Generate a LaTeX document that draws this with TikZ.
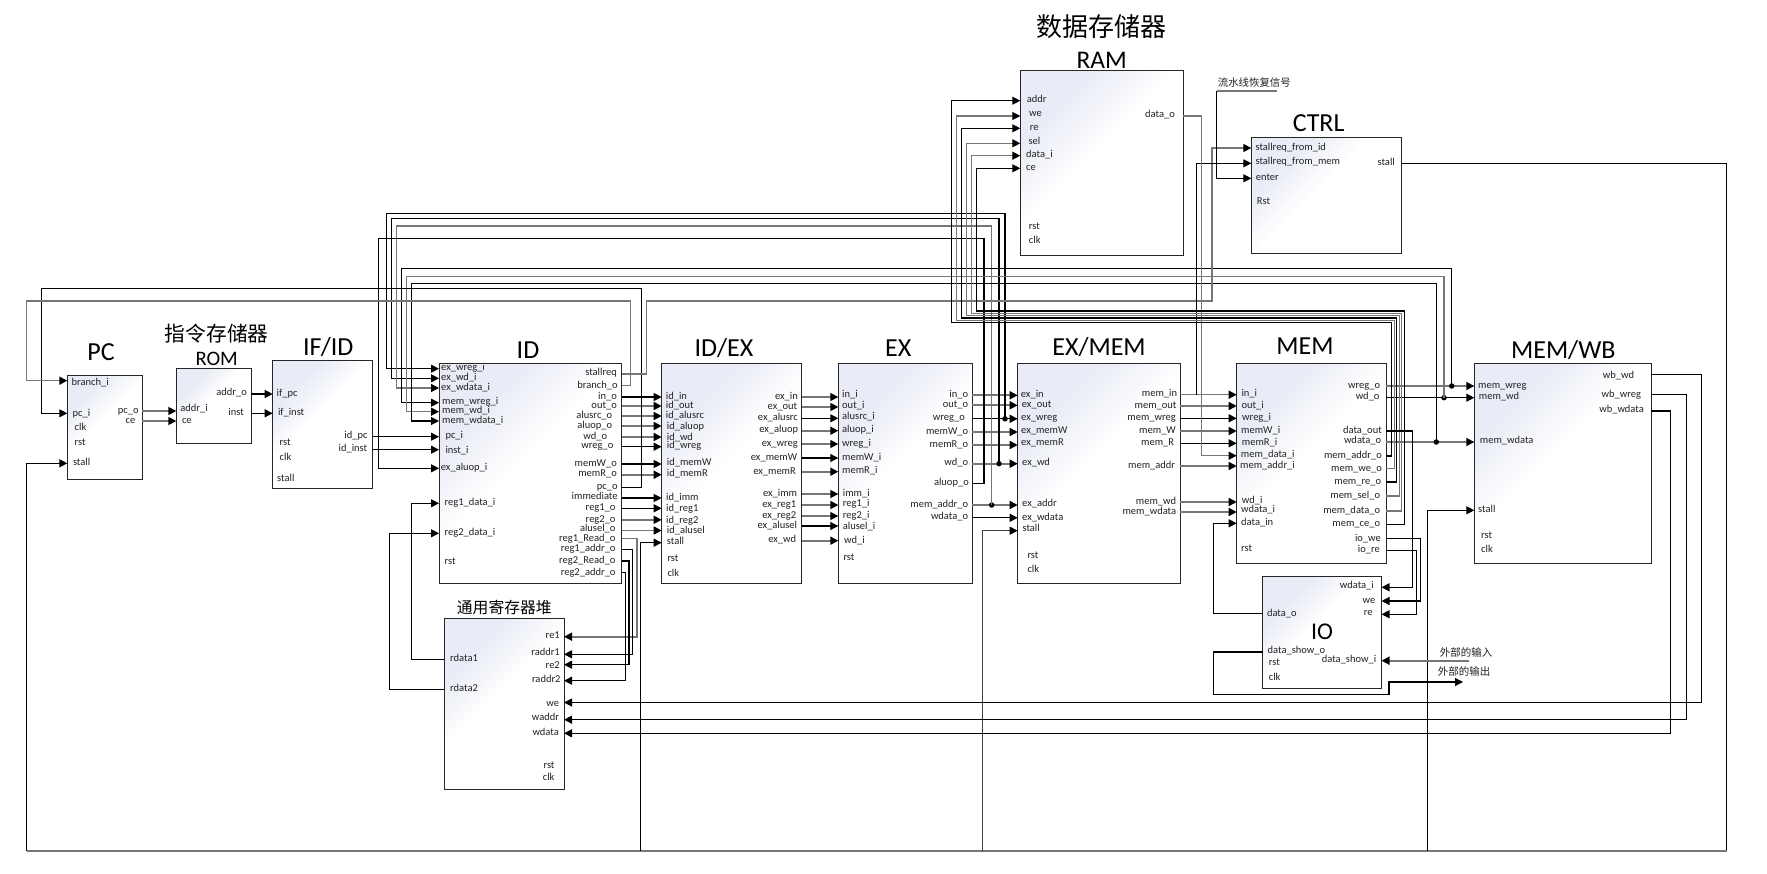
\documentclass[tikz,border=0pt]{standalone}
\usepackage{fontspec}
\setmainfont{Carlito}
\newfontfamily\cjk{Noto Sans CJK SC}
\usetikzlibrary{arrows.meta,calc}
\definecolor{blockblue}{HTML}{E9ECF6}
\definecolor{wiregray}{HTML}{767676}
\definecolor{ink}{HTML}{222222}
\pgfdeclarehorizontalshading{blkshade}{100bp}{color(0bp)=(blockblue);color(30bp)=(blockblue);color(46bp)=(white);color(100bp)=(white)}
\tikzset{
  blk/.style={draw=black!85,line width=1pt,shade,shading=blkshade,shading angle=-45,inner sep=0pt,outer sep=0pt},
  lab/.style={font=\fontsize{10.5}{12}\selectfont,text=ink,inner sep=0pt,text height=7pt,text depth=2.6pt},
  ttl/.style={font=\fontsize{26}{28}\selectfont,text=black,inner sep=0pt},
  wb/.style={draw=black,line width=1.05pt},
  wg/.style={draw=wiregray,line width=1.6pt},
  ar/.style={-{Triangle[length=8pt,width=8pt,color=black,fill=black]}},
  dot/.style={circle,fill=black,inner sep=0pt,minimum size=5.5pt}
}
\newcommand\blk[5]{\node[blk,minimum width={#4-#2},minimum height={#5-#3}] (#1) at ({(#2+#4)/2},{(#3+#5)/2}) {};}
\newcommand\Lp[5]{\coordinate (#1-#2) at (#1.west |- 0,#3);\node[lab,anchor=west] (t-#1-#2) at (#4,#5) {#2};}
\newcommand\Rp[5]{\coordinate (#1-#2) at (#1.east |- 0,#3);\node[lab,anchor=east] (t-#1-#2) at (#4,#5) {#2};}
\catcode`\_=12
\begin{document}
\begin{tikzpicture}[x=1pt,y=-1pt]
\useasboundingbox (0,0) rectangle (1767,874);
\fill[white] (0,0) rectangle (1767,874);
\begin{scope}[yshift=-1pt]
% blocks
\blk{PC}{67.3}{374.3}{142.3}{478}
\blk{ROM}{176.3}{367.3}{251.3}{442.3}
\blk{IFID}{272.7}{359.7}{372.5}{487.3}
\blk{ID}{439}{362.3}{621.6}{582.3}
\blk{IDEX}{661.7}{362.7}{801.7}{582.7}
\blk{EX}{838.3}{362.7}{972.3}{582.5}
\blk{EXMEM}{1017.7}{362.3}{1180.3}{582.3}
\blk{MEM}{1236.7}{362.3}{1386.3}{562.3}
\blk{MEMWB}{1474.3}{362.7}{1651.3}{562.3}
\blk{RAM}{1020.3}{70}{1183}{255}
\blk{CTRL}{1251.3}{136.7}{1401.7}{252.3}
\blk{IO}{1262.9}{575.7}{1381.5}{687}
\blk{RF}{444}{617.7}{564}{788.7}
% titles
\node[ttl] (n-pc) at (101,350.7) {PC};
\node[ttl,font=\cjk\fontsize{20.7}{22}\selectfont] (n-romc) at (216.7,332.3) {指令存储器};
\node[ttl,font=\fontsize{20.6}{22}\selectfont] (n-rom) at (216.7,358.3) {ROM};
\node[ttl] (n-ifid) at (328.3,345.7) {IF/ID};
\node[ttl] (n-id) at (528,349.3) {ID};
\node[ttl] (n-idex) at (724,347.3) {ID/EX};
\node[ttl] (n-ex) at (898.3,347.3) {EX};
\node[ttl] (n-exmem) at (1099,346) {EX/MEM};
\node[ttl] (n-mem) at (1305,345) {MEM};
\node[ttl] (n-memwb) at (1563.3,349.3) {MEM/WB};
\node[ttl,font=\cjk\fontsize{26}{28}\selectfont] (n-ramc) at (1101.7,26) {数据存储器};
\node[ttl,font=\fontsize{25.4}{27}\selectfont] (n-ram) at (1101.7,59.3) {RAM};
\node[ttl] (n-ctrl) at (1318.7,121.7) {CTRL};
\node[ttl,font=\fontsize{24}{26}\selectfont] (n-io) at (1322,630.7) {IO};
\node[ttl,font=\cjk\fontsize{15.8}{18}\selectfont] (n-rf) at (504.3,606.7) {通用寄存器堆};
\node[lab,font=\cjk\fontsize{10.4}{12}\selectfont] (n-note) at (1254.3,83.3) {流水线恢复信号};
\node[lab,font=\cjk\fontsize{10.5}{12}\selectfont] (n-in) at (1466,653.3) {外部的输入};
\node[lab,font=\cjk\fontsize{10.5}{12}\selectfont] (n-out) at (1464,672.3) {外部的输出};
% PC
\Lp{PC}{branch_i}{379.7}{71.5}{382.3}
\Lp{PC}{pc_i}{412.3}{72.4}{413}
\Lp{PC}{clk}{427}{74.5}{427.3}
\Lp{PC}{rst}{443}{74.5}{442.7}
\Lp{PC}{stall}{462.3}{72.8}{462.3}
\Rp{PC}{pc_o}{410}{138.9}{410}
\Rp{PC}{ce}{420}{135.5}{420}
% ROM
\Lp{ROM}{addr_i}{410}{180.1}{408.7}
\Lp{ROM}{ce}{420}{181.8}{420}
\Rp{ROM}{addr_o}{393}{247}{392.3}
\Rp{ROM}{inst}{412.3}{244}{412.3}
% IFID
\Lp{IFID}{if_pc}{393}{276.5}{393.3}
\Lp{IFID}{if_inst}{412.3}{277.8}{412.3}
\Lp{IFID}{rst}{442.7}{279.5}{442.7}
\Lp{IFID}{clk}{457.3}{279.5}{457.3}
\Lp{IFID}{stall}{478.3}{277}{478.3}
\Rp{IFID}{id_pc}{435.7}{367.8}{435}
\Rp{IFID}{id_inst}{448.7}{367.4}{448.7}
% ID
\Lp{ID}{ex_wreg_i}{367.7}{441}{367.7}
\Lp{ID}{ex_wd_i}{377.3}{441}{377.3}
\Lp{ID}{ex_wdata_i}{387}{441}{387}
\Lp{ID}{mem_wreg_i}{401.7}{442}{401}
\Lp{ID}{mem_wd_i}{410.7}{442}{410.7}
\Lp{ID}{mem_wdata_i}{420}{442}{420}
\Lp{ID}{pc_i}{435.7}{445.3}{435}
\Lp{ID}{inst_i}{448.7}{445.3}{450}
\Lp{ID}{ex_aluop_i}{467.3}{440.7}{467.3}
\Lp{ID}{reg1_data_i}{502.3}{444.4}{502.3}
\Lp{ID}{reg2_data_i}{532.3}{444.4}{532.3}
\Lp{ID}{rst}{561}{444.4}{561}
\Rp{ID}{stallreq}{373.3}{617}{372.7}
\Rp{ID}{branch_o}{384.7}{617.8}{385}
\Rp{ID}{in_o}{396}{617}{396.3}
\Rp{ID}{out_o}{405}{617}{405.3}
\Rp{ID}{alusrc_o}{415}{612.4}{415}
\Rp{ID}{aluop_o}{425}{612.4}{425}
\Rp{ID}{wd_o}{436}{607.3}{436.3}
\Rp{ID}{wreg_o}{445.7}{613.6}{445.7}
\Rp{ID}{memW_o}{463}{617}{463.7}
\Rp{ID}{memR_o}{473.7}{617}{473.7}
\Rp{ID}{pc_o}{486.7}{617.8}{486.7}
\Rp{ID}{immediate}{497}{617.8}{496.7}
\Rp{ID}{reg1_o}{507.3}{615.7}{507}
\Rp{ID}{reg2_o}{518.8}{615.7}{519}
\Rp{ID}{alusel_o}{529.5}{615.7}{528.7}
\Rp{ID}{reg1_Read_o}{537.5}{615.7}{538}
\Rp{ID}{reg1_addr_o}{548.5}{615.7}{548.7}
\Rp{ID}{reg2_Read_o}{560}{615.7}{560.3}
\Rp{ID}{reg2_addr_o}{571.3}{615.7}{572}
% IDEX
\Lp{IDEX}{id_in}{396}{665.7}{396}
\Lp{IDEX}{id_out}{405}{665.7}{405}
\Lp{IDEX}{id_alusrc}{415}{665.7}{415}
\Lp{IDEX}{id_aluop}{425}{666.7}{426}
\Lp{IDEX}{id_wd}{436}{666.7}{437}
\Lp{IDEX}{id_wreg}{445.7}{666.7}{445.7}
\Lp{IDEX}{id_memW}{463}{666.7}{462.3}
\Lp{IDEX}{id_memR}{473.7}{666.7}{473.7}
\Lp{IDEX}{id_imm}{497}{666}{497.3}
\Lp{IDEX}{id_reg1}{507.3}{666}{508.3}
\Lp{IDEX}{id_reg2}{518.8}{666}{520}
\Lp{IDEX}{id_alusel}{529.5}{666.7}{530.3}
\Lp{IDEX}{stall}{541.7}{666.7}{541}
\Lp{IDEX}{rst}{558}{667.3}{558.3}
\Lp{IDEX}{clk}{573}{667.3}{573.3}
\Rp{IDEX}{ex_in}{396}{798}{396}
\Rp{IDEX}{ex_out}{406}{797.3}{406}
\Rp{IDEX}{ex_alusrc}{417.3}{798}{417.3}
\Rp{IDEX}{ex_aluop}{429.7}{798.3}{429.7}
\Rp{IDEX}{ex_wreg}{443}{798}{443}
\Rp{IDEX}{ex_memW}{457}{797.3}{457.3}
\Rp{IDEX}{ex_memR}{470.7}{796}{471}
\Rp{IDEX}{ex_imm}{493}{797.3}{493}
\Rp{IDEX}{ex_reg1}{504}{796.3}{504}
\Rp{IDEX}{ex_reg2}{515}{796.3}{515}
\Rp{IDEX}{ex_alusel}{525}{797.3}{525.3}
\Rp{IDEX}{ex_wd}{539.7}{796.3}{539.7}
% EX
\Lp{EX}{in_i}{396}{842}{394.7}
\Lp{EX}{out_i}{406}{842}{405.3}
\Lp{EX}{alusrc_i}{417.3}{842}{416.3}
\Lp{EX}{aluop_i}{429.7}{842}{429}
\Lp{EX}{wreg_i}{443}{842}{443}
\Lp{EX}{memW_i}{457}{842}{457.3}
\Lp{EX}{memR_i}{470.7}{842}{470}
\Lp{EX}{imm_i}{493}{842.7}{493}
\Lp{EX}{reg1_i}{504}{842.7}{503.7}
\Lp{EX}{reg2_i}{515}{842.7}{515.7}
\Lp{EX}{alusel_i}{525}{842.7}{526}
\Lp{EX}{wd_i}{539.7}{844}{540}
\Lp{EX}{rst}{557}{843.3}{557.3}
\Rp{EX}{in_o}{394.3}{968.3}{394.3}
\Rp{EX}{out_o}{404.3}{968.3}{404.3}
\Rp{EX}{wreg_o}{417.8}{965}{417.7}
\Rp{EX}{memW_o}{431}{968.3}{431}
\Rp{EX}{memR_o}{444}{968.3}{444}
\Rp{EX}{wd_o}{462.7}{968.3}{462.7}
\Rp{EX}{aluop_o}{482.7}{969}{482.7}
\Rp{EX}{mem_addr_o}{504}{968.3}{504}
\Rp{EX}{wdata_o}{516.8}{968.3}{516.7}
% EXMEM
\Lp{EXMEM}{ex_in}{394.3}{1020.7}{394}
\Lp{EXMEM}{ex_out}{404.3}{1021.7}{404}
\Lp{EXMEM}{ex_wreg}{417.8}{1021}{417.7}
\Lp{EXMEM}{ex_memW}{431}{1021}{430.7}
\Lp{EXMEM}{ex_memR}{444}{1021}{442.7}
\Lp{EXMEM}{ex_wd}{462.7}{1022}{462.7}
\Lp{EXMEM}{ex_addr}{504}{1022}{503.7}
\Lp{EXMEM}{ex_wdata}{516.8}{1022}{517}
\Lp{EXMEM}{stall}{529.7}{1022.3}{528.7}
\Lp{EXMEM}{rst}{555}{1027.3}{555}
\Lp{EXMEM}{clk}{569.7}{1027.3}{569.7}
\Rp{EXMEM}{mem_in}{393.7}{1177.3}{393.7}
\Rp{EXMEM}{mem_out}{405}{1176.7}{405}
\Rp{EXMEM}{mem_wreg}{417.3}{1176}{417.3}
\Rp{EXMEM}{mem_W}{430}{1176}{430}
\Rp{EXMEM}{mem_R}{442.3}{1174.3}{442.3}
\Rp{EXMEM}{mem_addr}{465}{1175.3}{465}
\Rp{EXMEM}{mem_wd}{501}{1176.3}{501}
\Rp{EXMEM}{mem_wdata}{511}{1176.3}{511}
% MEM
\Lp{MEM}{in_i}{393.7}{1241.3}{393.7}
\Lp{MEM}{out_i}{405}{1241.3}{405}
\Lp{MEM}{wreg_i}{417.3}{1242}{417.3}
\Lp{MEM}{memW_i}{430}{1241}{430}
\Lp{MEM}{memR_i}{442.3}{1241.7}{442.3}
\Lp{MEM}{mem_data_i}{454.7}{1240.7}{454.7}
\Lp{MEM}{mem_addr_i}{465}{1240}{465}
\Lp{MEM}{wd_i}{501}{1241.7}{500.7}
\Lp{MEM}{wdata_i}{511}{1241}{509.7}
\Lp{MEM}{data_in}{522.3}{1241}{522.3}
\Lp{MEM}{rst}{548.7}{1241}{548.7}
\Rp{MEM}{wreg_o}{385}{1380.3}{385}
\Rp{MEM}{wd_o}{396.7}{1379.7}{396.7}
\Rp{MEM}{data_out}{430}{1382}{430}
\Rp{MEM}{wdata_o}{441}{1381.3}{440.3}
\Rp{MEM}{mem_addr_o}{455}{1382}{455}
\Rp{MEM}{mem_we_o}{467.7}{1382}{468.3}
\Rp{MEM}{mem_re_o}{481}{1381.3}{481}
\Rp{MEM}{mem_sel_o}{495}{1380.3}{495}
\Rp{MEM}{mem_data_o}{510}{1380.3}{510}
\Rp{MEM}{mem_ce_o}{523.3}{1380.3}{523.3}
\Rp{MEM}{io_we}{537.7}{1381}{538}
\Rp{MEM}{io_re}{549.3}{1380}{549.3}
% MEMWB
\Lp{MEMWB}{mem_wreg}{385}{1478}{385}
\Lp{MEMWB}{mem_wd}{396.7}{1478.7}{396.7}
\Lp{MEMWB}{mem_wdata}{441}{1479.7}{440}
\Lp{MEMWB}{stall}{509.3}{1478}{509.3}
\Lp{MEMWB}{rst}{535}{1481}{535}
\Lp{MEMWB}{clk}{549.7}{1481}{549.7}
\Rp{MEMWB}{wb_wd}{373.3}{1634.3}{375}
\Rp{MEMWB}{wb_wreg}{393.7}{1641.3}{394.7}
\Rp{MEMWB}{wb_wdata}{410}{1644}{409.3}
% RAM
\Lp{RAM}{addr}{99.7}{1026.7}{99.7}
\Lp{RAM}{we}{115}{1029}{113.7}
\Lp{RAM}{re}{127.3}{1029.7}{127.3}
\Lp{RAM}{sel}{142.3}{1028.3}{141}
\Lp{RAM}{data_i}{154.7}{1026}{154.7}
\Lp{RAM}{ce}{167.3}{1026}{167.3}
\Lp{RAM}{rst}{226}{1028.7}{226}
\Lp{RAM}{clk}{240.7}{1028.7}{240.7}
\Rp{RAM}{data_o}{115}{1175}{114}
% CTRL
\Lp{CTRL}{stallreq_from_id}{147}{1255.3}{147}
\Lp{CTRL}{stallreq_from_mem}{162.3}{1255.3}{161.3}
\Lp{CTRL}{enter}{177.3}{1255.7}{177.3}
\Lp{CTRL}{Rst}{201}{1256.7}{201}
\Rp{CTRL}{stall}{162.7}{1395}{162.3}
% IO
\Rp{IO}{wdata_i}{586.3}{1374}{585.7}
\Rp{IO}{we}{600}{1375.4}{600}
\Rp{IO}{re}{613.3}{1372.9}{612.7}
\Lp{IO}{data_o}{612.3}{1266.8}{613.3}
\Lp{IO}{data_show_o}{651}{1267.5}{650}
\Lp{IO}{rst}{662.7}{1268.6}{662.7}
\Lp{IO}{clk}{677.3}{1268.6}{677.3}
\Rp{IO}{data_show_i}{659.7}{1376.4}{659.3}
% RF
\Rp{RF}{re1}{635.7}{560}{635.7}
\Rp{RF}{raddr1}{653.3}{560}{652}
\Rp{RF}{re2}{663.7}{560}{665}
\Rp{RF}{raddr2}{679.7}{560.7}{679.7}
\Rp{RF}{we}{701.5}{559.3}{703.3}
\Rp{RF}{waddr}{718.7}{559.3}{717.7}
\Rp{RF}{wdata}{732.3}{559}{732.3}
\Rp{RF}{rst}{765}{554.7}{765}
\Rp{RF}{clk}{777}{554.7}{777}
\Lp{RF}{rdata1}{658.3}{450}{658.3}
\Lp{RF}{rdata2}{688.7}{450}{688.7}
% simple connectors
\draw[wg,ar] (PC-pc_o) -- (ROM-addr_i);
\draw[wg,ar] (PC-ce) -- (ROM-ce);
\draw[wb,ar] (ROM-addr_o) -- (IFID-if_pc);
\draw[wb,ar] (ROM-inst) -- (IFID-if_inst);
\draw[wb,ar] (IFID-id_pc) -- (ID-pc_i);
\draw[wb,ar] (IFID-id_inst) -- (ID-inst_i);
\draw[wb,ar] (ID-in_o) -- (IDEX-id_in);
\draw[wg,ar] (ID-out_o) -- (IDEX-id_out);
\draw[wg,ar] (ID-alusrc_o) -- (IDEX-id_alusrc);
\draw[wg,ar] (ID-aluop_o) -- (IDEX-id_aluop);
\draw[wg,ar] (ID-wd_o) -- (IDEX-id_wd);
\draw[wb,ar] (ID-wreg_o) -- (IDEX-id_wreg);
\draw[wb,ar] (ID-memW_o) -- (IDEX-id_memW);
\draw[wg,ar] (ID-memR_o) -- (IDEX-id_memR);
\draw[wb,ar] (ID-immediate) -- (IDEX-id_imm);
\draw[wb,ar] (ID-reg1_o) -- (IDEX-id_reg1);
\draw[wg,ar] (ID-reg2_o) -- (IDEX-id_reg2);
\draw[wg,ar] (ID-alusel_o) -- (IDEX-id_alusel);
\draw[wg,ar] (IDEX-ex_in) -- (EX-in_i);
\draw[wg,ar] (IDEX-ex_out) -- (EX-out_i);
\draw[wb,ar] (IDEX-ex_alusrc) -- (EX-alusrc_i);
\draw[wg,ar] (IDEX-ex_aluop) -- (EX-aluop_i);
\draw[wg,ar] (IDEX-ex_wreg) -- (EX-wreg_i);
\draw[wb,ar] (IDEX-ex_memW) -- (EX-memW_i);
\draw[wg,ar] (IDEX-ex_memR) -- (EX-memR_i);
\draw[wg,ar] (IDEX-ex_imm) -- (EX-imm_i);
\draw[wg,ar] (IDEX-ex_reg1) -- (EX-reg1_i);
\draw[wg,ar] (IDEX-ex_reg2) -- (EX-reg2_i);
\draw[wb,ar] (IDEX-ex_alusel) -- (EX-alusel_i);
\draw[wg,ar] (IDEX-ex_wd) -- (EX-wd_i);
\draw[wg,ar] (EX-in_o) -- (EXMEM-ex_in);
\draw[wg,ar] (EX-out_o) -- (EXMEM-ex_out);
\draw[wb,ar] (EX-wreg_o) -- (EXMEM-ex_wreg);
\draw[wg,ar] (EX-memW_o) -- (EXMEM-ex_memW);
\draw[wg,ar] (EX-memR_o) -- (EXMEM-ex_memR);
\draw[wg,ar] (EX-wd_o) -- (EXMEM-ex_wd);
\draw[wg,ar] (EX-mem_addr_o) -- (EXMEM-ex_addr);
\draw[wb,ar] (EX-wdata_o) -- (EXMEM-ex_wdata);
\draw[wg,ar] (EXMEM-mem_in) -- (MEM-in_i);
\draw[wg,ar] (EXMEM-mem_out) -- (MEM-out_i);
\draw[wb,ar] (EXMEM-mem_wreg) -- (MEM-wreg_i);
\draw[wg,ar] (EXMEM-mem_W) -- (MEM-memW_i);
\draw[wb,ar] (EXMEM-mem_R) -- (MEM-memR_i);
\draw[wg,ar] (EXMEM-mem_addr) -- (MEM-mem_addr_i);
\draw[wg,ar] (EXMEM-mem_wd) -- (MEM-wd_i);
\draw[wg,ar] (EXMEM-mem_wdata) -- (MEM-wdata_i);
\draw[wg,ar] (MEM-wreg_o) -- (MEMWB-mem_wreg);
\draw[wb,ar] (MEM-wd_o) -- (MEMWB-mem_wd);
\draw[wg,ar] (MEM-wdata_o) -- (MEMWB-mem_wdata);
% junction dots
\node[dot] (d-exwreg) at (1005,417.8) {};
\node[dot] (d-exwd) at (999,462.7) {};
\node[dot] (d-exaddr) at (991.7,504) {};
\node[dot] (d-wbwreg) at (1451.7,385) {};
\node[dot] (d-wbwd) at (1444,396.7) {};
\node[dot] (d-wbwdata) at (1436.3,441) {};
\coordinate (j-memin) at (1196.7,393.7);
% forwarding paths to ID
\coordinate (c-a) at (386.7,212.7);
\coordinate (c-b) at (391.7,217.7);
\coordinate (c-c) at (396.7,225);
\coordinate (c-d1) at (984,237.3);
\coordinate (c-d2) at (378.8,237.3);
\coordinate (c-e) at (401.7,267.7);
\coordinate (c-f) at (406.7,275.3);
\coordinate (c-g) at (411.7,282.7);
\draw[wb,ar] (d-exwreg.center) |- (c-a) |- (ID-ex_wreg_i);
\draw[wb,ar] (d-exwd.center) |- (c-b) |- (ID-ex_wd_i);
\draw[wg,line width=1.4pt,ar] (d-exaddr.center) |- (c-c) |- (ID-ex_wdata_i);
\draw[wb,ar] (EX-aluop_o) -| (c-d1) -- (c-d2) |- (ID-ex_aluop_i);
\draw[wb,ar] (d-wbwreg.center) |- (c-e) |- (ID-mem_wreg_i);
\draw[wg,line width=1.4pt,ar] (d-wbwd.center) |- (c-f) |- (ID-mem_wd_i);
\draw[wb,ar] (d-wbwdata.center) |- (c-g) |- (ID-mem_wdata_i);
% branch, pc, stall request
\coordinate (c-p1) at (641.5,287.5);
\coordinate (c-p2) at (41.2,287.5);
\coordinate (c-q1) at (630.4,300);
\coordinate (c-q2) at (26.5,300);
\coordinate (c-r1) at (646.6,300);
\coordinate (c-r2) at (1211.7,300);
\draw[wb,ar] (ID-pc_o) -| (c-p1) -- (c-p2) |- (PC-pc_i);
\draw[wg,ar] (ID-branch_o) -| (c-q1) -- (c-q2) |- (PC-branch_i);
\draw[wg,ar] (ID-stallreq) -| (c-r1) -- (c-r2) |- (CTRL-stallreq_from_id);
\draw[wb,ar] (j-memin) |- (CTRL-stallreq_from_mem);
\coordinate (c-s) at (1201.5,115);
\draw[wg,line width=1.4pt,ar] (RAM-data_o) -- (c-s) |- (MEM-mem_data_i);
\coordinate (c-t1) at (1276.7,90);
\coordinate (c-t2) at (1216.7,90);
\draw[wb,ar] (c-t2) |- (CTRL-enter);
\draw[wg] (c-t1) -- (c-t2);
% MEM to RAM
\coordinate (m-a1) at (1391.7,321.7); \coordinate (m-a2) at (951.7,321.7);
\coordinate (m-b1) at (1394.2,319.3); \coordinate (m-b2) at (956.7,319.3);
\coordinate (m-c1) at (1396.7,317);   \coordinate (m-c2) at (961.7,317);
\coordinate (m-d1) at (1399.2,314.7); \coordinate (m-d2) at (966.7,314.7);
\coordinate (m-e1) at (1401.7,312.3); \coordinate (m-e2) at (971.7,312.3);
\coordinate (m-f1) at (1404.1,310);   \coordinate (m-f2) at (976.7,310);
\draw[wb,ar] (MEM-mem_addr_o) -| (m-a1) -- (m-a2) |- (RAM-addr);
\draw[wg,line width=1.3pt,ar] (MEM-mem_we_o) -| (m-b1) -- (m-b2) |- (RAM-we);
\draw[wb,ar] (MEM-mem_re_o) -| (m-c1) -- (m-c2) |- (RAM-re);
\draw[wg,line width=1.3pt,ar] (MEM-mem_sel_o) -| (m-d1) -- (m-d2) |- (RAM-sel);
\draw[wg,line width=1.3pt,ar] (MEM-mem_data_o) -| (m-e1) -- (m-e2) |- (RAM-data_i);
\draw[wb,ar] (MEM-mem_ce_o) -| (m-f1) -- (m-f2) |- (RAM-ce);
% stall distribution
\coordinate (s-1) at (1726.8,849.7);
\coordinate (s-2) at (26.5,849.7);
\coordinate (s-3) at (640.3,849.7);
\coordinate (s-4) at (982.7,849.7);
\coordinate (s-5) at (1427.8,849.7);
\draw[wb,line width=1.2pt] (CTRL-stall) -| (s-1);
\draw[wb,line width=1.2pt,ar] (s-2) |- (PC-stall);
\draw[wg] (s-1) -- (s-2);
\draw[wb,ar] (s-3) |- (IDEX-stall);
\draw[wb,line width=1.3pt,draw=black!75,ar] (s-4) |- (EXMEM-stall);
\draw[wb,line width=1.2pt,ar] (s-5) |- (MEMWB-stall);
% register file
\coordinate (f-1) at (411.5,658.3);
\coordinate (f-2) at (389.3,688.7);
\draw[wb,ar] (RF-rdata1) -- (f-1) |- (ID-reg1_data_i);
\draw[wb,ar] (RF-rdata2) -- (f-2) |- (ID-reg2_data_i);
\coordinate (f-3) at (636.7,635.7);
\coordinate (f-4) at (632.7,653.3);
\coordinate (f-5) at (629,663.7);
\coordinate (f-6) at (625.7,679.7);
\draw[wg,ar] (ID-reg1_Read_o) -| (f-3) -- (RF-re1);
\draw[wb,ar] (ID-reg1_addr_o) -| (f-4) -- (RF-raddr1);
\draw[wb,ar] (ID-reg2_Read_o) -| (f-5) -- (RF-re2);
\draw[wb,ar] (ID-reg2_addr_o) -| (f-6) -- (RF-raddr2);
\coordinate (f-7) at (1701.8,701.5);
\coordinate (f-8) at (1686.3,718.7);
\coordinate (f-9) at (1670.2,732.3);
\draw[wb,ar] (MEMWB-wb_wd) -| (f-7) -- (RF-we);
\draw[wb,line width=1.3pt,ar] (MEMWB-wb_wreg) -| (f-8) -- (RF-waddr);
\draw[wb,ar] (MEMWB-wb_wdata) -| (f-9) -- (RF-wdata);
% IO
\coordinate (i-1) at (1412.8,586.3);
\coordinate (i-2) at (1420.5,600);
\coordinate (i-3) at (1416.8,613.3);
\draw[wb,line width=1.3pt,ar] (MEM-data_out) -| (i-1) -- (IO-wdata_i);
\draw[wb,line width=1.3pt,ar] (MEM-io_we) -| (i-2) -- (IO-we);
\draw[wb,ar] (MEM-io_re) -| (i-3) -- (IO-re);
\coordinate (i-4) at (1213.8,612.3);
\draw[wb,ar] (IO-data_o) -- (i-4) |- (MEM-data_in);
\coordinate (i-5) at (1213.8,651);
\coordinate (i-6) at (1213.8,693.7);
\coordinate (i-7) at (1389,693.7);
\coordinate (i-8) at (1389,681);
\coordinate (i-9) at (1463,681);
\draw[wb,ar] (IO-data_show_o) -- (i-5) -- (i-6) -- (i-7) -- (i-8) -- (i-9);
\coordinate (i-10) at (1468.6,659.7);
\draw[wg,ar] (i-10) -- (IO-data_show_i);
\end{scope}
\end{tikzpicture}
\end{document}
